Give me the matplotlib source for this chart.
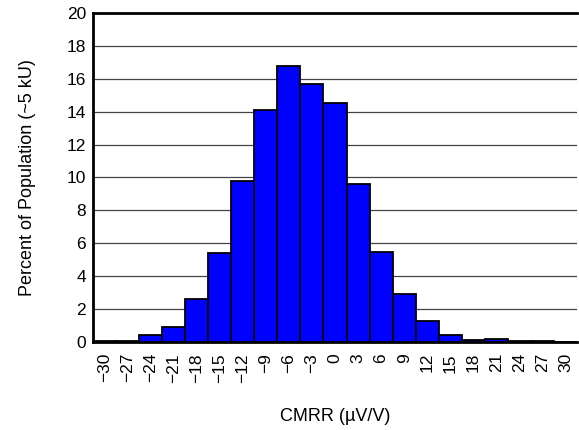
import numpy as np
import matplotlib.pyplot as plt

plt.rcParams['font.family'] = ['Liberation Sans', 'DejaVu Sans']

# CMRR bins (uV/V) and percent of population
bins = [-30, -27, -24, -21, -18, -15, -12, -9, -6, -3, 0, 3, 6, 9, 12, 15, 18, 21, 24, 27, 30]
percent = [0.05, 0.08, 0.4, 0.9, 2.6, 5.4, 9.8, 14.1, 16.8, 15.7, 14.5,
           9.6, 5.5, 2.9, 1.3, 0.45, 0.12, 0.2, 0.08, 0.03, 0.0]

fig = plt.figure(figsize=(5.79, 4.30), dpi=100)
ax = fig.add_axes([0.1606, 0.2047, 0.836, 0.7651])

x = np.arange(len(bins))
ax.bar(x, percent, width=1.0, color='#0000ff', edgecolor='black', linewidth=1.3, zorder=3)

ax.set_xlim(-0.5, len(bins) - 0.5)
ax.set_ylim(0, 20)
ax.set_yticks(range(0, 21, 2))
ax.set_xticks(x)
ax.set_xticklabels([str(b).replace('-', '\u2212') for b in bins], rotation=90)
ax.tick_params(axis='y', length=0, labelsize=12.5, pad=5)
ax.tick_params(axis='x', length=0, labelsize=12.5, pad=8)
ax.yaxis.grid(True, color='#444444', linewidth=0.9, zorder=0)

for s in ['left', 'bottom', 'top']:
    ax.spines[s].set_linewidth(2.0)
ax.spines['right'].set_visible(False)

ax.set_xlabel('CMRR (\u00b5V/V)', fontsize=13, labelpad=18)
ax.set_ylabel('Percent of Population (~5 kU)', fontsize=13, labelpad=22)

fig.savefig('out.png', dpi=100)
